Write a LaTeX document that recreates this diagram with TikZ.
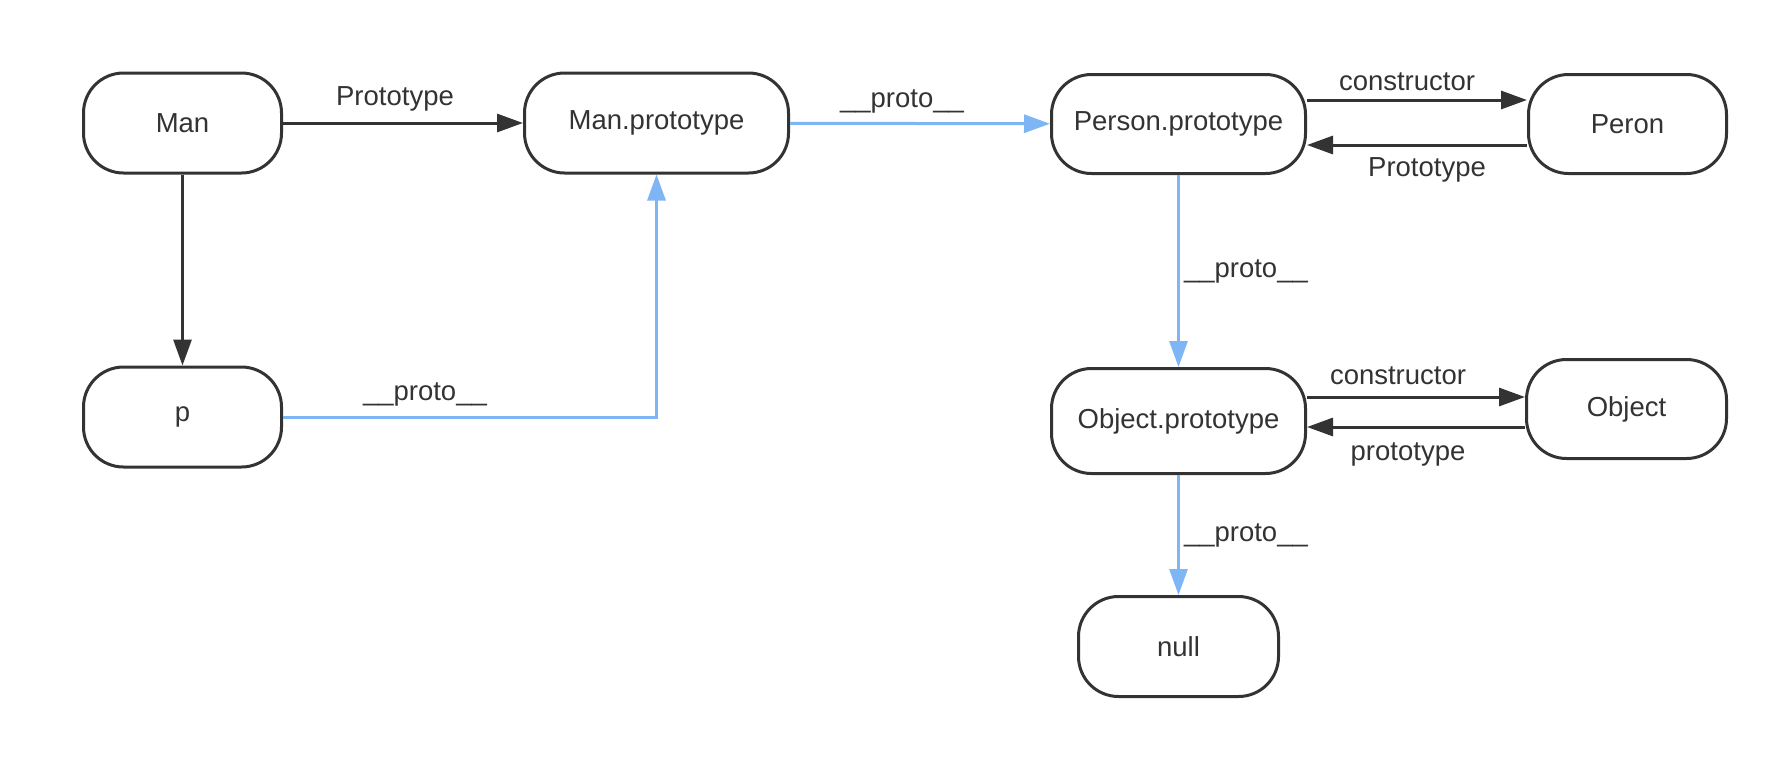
\documentclass[tikz,border=0pt]{standalone}
\usepackage{fontspec}
\setmainfont{Liberation Sans}
\usetikzlibrary{arrows.meta}
\definecolor{dk}{HTML}{333333}
\definecolor{bl}{HTML}{7DB5F5}
\newcommand{\lblfont}{\fontsize{27.5}{31}\selectfont}
\begin{document}
\begin{tikzpicture}[x=1pt,y=-1pt,
  box/.style={draw=dk, line width=3pt, rounded corners=40pt, minimum height=100pt, inner sep=0pt, font=\lblfont, text=dk, fill=white},
  darr/.style={draw=dk, line width=3pt, -{Triangle[length=26pt,width=18pt]}},
  barr/.style={draw=bl, line width=3pt, -{Triangle[length=26pt,width=18pt]}},
  lbl/.style={font=\lblfont, text=dk, inner sep=0pt}]
\useasboundingbox[fill=white] (0,0) rectangle (1778,774);

\node[box, minimum width=198pt] (man) at (182.5,123) {Man};
\node[box, minimum width=264pt] (manp) at (656.5,123) {Man.prototype};
\node[box, minimum width=254pt, minimum height=99pt] (perp) at (1178.5,124) {Person.prototype};
\node[box, minimum width=198pt, minimum height=99pt] (peron) at (1627.5,124) {Peron};
\node[box, minimum width=198pt] (p) at (182.5,417) {p};
\node[box, minimum width=254pt, minimum height=105pt] (objp) at (1178.5,421) {Object.prototype};
\node[box, minimum width=200pt, minimum height=99pt] (obj) at (1626.5,409) {Object};
\node[box, minimum width=200pt] (null) at (1178.5,646.5) {null};

\coordinate (oc) at ([yshift=24pt]objp.east);
\coordinate (op) at ([yshift=-6pt]objp.east);

% Man -> Man.prototype
\draw[darr] (man) -- (manp) node[lbl, midway, above=10pt, xshift=-8pt] {Prototype};
% Man.prototype -> Person.prototype
\draw[barr] (manp) -- (perp) node[lbl, midway, above=9pt, xshift=-18pt] {\_\_proto\_\_};
% Person.prototype <-> Peron
\draw[darr] ([yshift=24pt]perp.east) -- ([yshift=24pt]peron.west) node[lbl, midway, above=8pt, xshift=-10pt] {constructor};
\draw[darr] ([yshift=-21pt]peron.west) -- ([yshift=-21pt]perp.east) node[lbl, midway, below=11pt, xshift=10pt] {Prototype};
% Man -> p
\draw[darr] (man) -- (p);
% p -> Man.prototype
\draw[barr] (p) -| (manp) node[lbl, pos=0.19, above=9pt] {\_\_proto\_\_};
% Person.prototype -> Object.prototype
\draw[barr] (perp) -- (objp) node[lbl, midway, right=4pt] {\_\_proto\_\_};
% Object.prototype <-> Object
\draw[darr] (oc) -- (obj.west |- oc) node[lbl, midway, above=11pt, xshift=-18pt] {constructor};
\draw[darr] (obj.west |- op) -- (op) node[lbl, midway, below=14pt, xshift=-8pt] {prototype};
% Object.prototype -> null
\draw[barr] (objp) -- (null) node[lbl, midway, right=4pt] {\_\_proto\_\_};
\end{tikzpicture}
\end{document}
